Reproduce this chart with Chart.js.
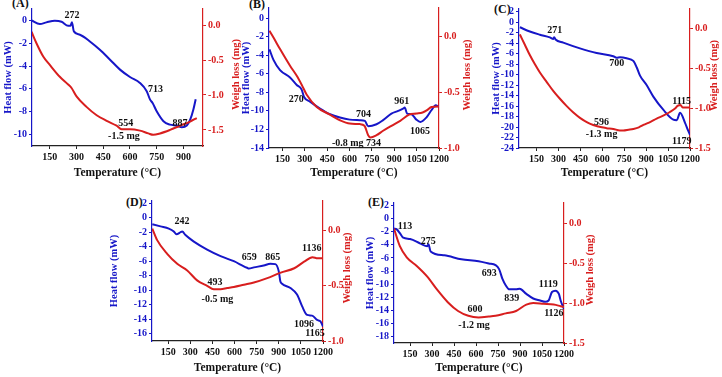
<!DOCTYPE html>
<html>
<head>
<meta charset="utf-8">
<script src="https://cdn.jsdelivr.net/npm/chart.js@4.4.1/dist/chart.umd.min.js"></script>
<style>
  body { margin: 0; background: #fff; }
  #wrap { position: relative; width: 722px; height: 377px; overflow: hidden; }
  #wrap canvas { position: absolute; left: 0; top: 0; }
  .tag { position: absolute; font: bold 12px "Liberation Serif", serif; color: #111; }
</style>
</head>
<body>
<div id="wrap">
  <div class="tag" style="left:12px;top:-4px">(A)</div>
  <div class="tag" style="left:249px;top:-3px">(B)</div>
  <div class="tag" style="left:494px;top:2px">(C)</div>
  <div class="tag" style="left:126px;top:195px">(D)</div>
  <div class="tag" style="left:368px;top:195px">(E)</div>
</div>
<script>
// ---- data ----
// (A)
const aHeatT = [47, 94, 131, 178, 216, 253, 266, 274, 285, 319, 375, 431, 488, 544, 600, 656, 694, 713, 727, 750, 788, 825, 863, 891, 919, 938, 956, 969];
const aHeat  = [0.0, -0.32, -0.17, -0.03, -0.12, -0.47, -0.47, -0.15, -0.96, -1.25, -1.84, -2.57, -3.44, -4.31, -4.96, -5.48, -6.2, -6.94, -7.23, -7.96, -8.83, -9.13, -9.21, -9.36, -9.2, -8.7, -7.8, -6.9];
const aLossT = [47, 75, 113, 150, 206, 253, 272, 300, 356, 413, 469, 525, 553, 600, 656, 703, 731, 769, 825, 881, 938, 975];
const aLoss  = [-0.095, -0.26, -0.45, -0.57, -0.74, -0.85, -0.9, -1.02, -1.17, -1.29, -1.37, -1.44, -1.49, -1.49, -1.51, -1.55, -1.57, -1.55, -1.5, -1.44, -1.38, -1.33];

// (B)
const bHeatT = [63, 90, 134, 201, 246, 279, 295, 335, 402, 469, 536, 602, 669, 703, 725, 781, 825, 881, 926, 959, 970, 986, 1015, 1048, 1075, 1115, 1149, 1178, 1200];
const bHeat  = [-3.36, -4.5, -5.6, -6.4, -7.2, -7.7, -8.5, -9.0, -9.75, -10.36, -10.72, -10.94, -11.0, -11.08, -11.66, -11.44, -11.0, -10.29, -10.0, -9.75, -9.64, -10.29, -10.36, -10.94, -11.19, -10.72, -9.93, -9.39, -9.57];
const bLossT = [63, 90, 134, 201, 246, 279, 313, 380, 469, 536, 602, 669, 700, 725, 740, 781, 825, 881, 940, 1000, 1048, 1090, 1120, 1150, 1200];
const bLoss  = [0.055, -0.006, -0.11, -0.26, -0.35, -0.43, -0.52, -0.63, -0.70, -0.75, -0.78, -0.785, -0.8, -0.885, -0.906, -0.885, -0.845, -0.8, -0.755, -0.70, -0.69, -0.68, -0.66, -0.63, -0.627];

// (C)
const cHeatT = [36, 104, 173, 241, 265, 271, 280, 333, 447, 561, 675, 698, 721, 766, 812, 835, 858, 903, 949, 1017, 1086, 1109, 1132, 1166, 1189, 1200];
const cHeat  = [-0.98, -1.8, -2.4, -2.9, -3.2, -2.9, -3.3, -3.9, -5.0, -5.9, -6.5, -6.8, -6.7, -6.9, -7.4, -8.6, -10.2, -12.0, -14.2, -16.7, -18.6, -18.7, -17.3, -19.2, -20.8, -21.5];
const cLossT = [36, 70, 104, 140, 173, 220, 264, 310, 355, 400, 447, 500, 538, 596, 629, 675, 720, 744, 780, 812, 850, 881, 930, 972, 1020, 1060, 1100, 1115, 1135, 1150, 1200];
const cLoss  = [-0.07, -0.2, -0.33, -0.45, -0.55, -0.67, -0.78, -0.88, -0.97, -1.05, -1.12, -1.18, -1.21, -1.24, -1.25, -1.26, -1.28, -1.28, -1.27, -1.26, -1.24, -1.21, -1.17, -1.13, -1.09, -1.05, -1.0, -0.97, -0.96, -0.99, -0.99];

// (D)
const dHeatT = [42, 98, 154, 188, 206, 234, 245, 267, 324, 414, 505, 595, 663, 685, 697, 731, 798, 843, 877, 900, 911, 922, 979, 1024, 1058, 1092, 1126, 1160, 1183, 1200];
const dHeat  = [-0.9, -1.2, -1.5, -1.9, -2.3, -2.0, -1.9, -2.4, -3.3, -4.4, -5.3, -6.0, -6.7, -6.9, -7.0, -6.85, -6.6, -6.35, -6.4, -7.4, -8.8, -9.1, -9.7, -10.6, -12.2, -13.4, -13.5, -14.1, -14.3, -15.0];
const dLossT = [42, 75, 143, 211, 279, 346, 414, 459, 505, 550, 595, 663, 731, 822, 914, 1005, 1072, 1129, 1163, 1200];
const dLoss  = [0.02, -0.085, -0.21, -0.30, -0.36, -0.45, -0.50, -0.53, -0.53, -0.52, -0.51, -0.49, -0.47, -0.43, -0.38, -0.34, -0.28, -0.24, -0.25, -0.25];

// (E)
const eHeatT = [40, 57, 80, 103, 150, 220, 267, 275, 290, 383, 500, 617, 687, 733, 757, 780, 803, 827, 873, 897, 943, 990, 1037, 1072, 1095, 1118, 1142, 1165, 1177, 1200];
const eHeat  = [-1.5, -1.6, -2.2, -2.9, -3.1, -3.8, -4.2, -3.9, -5.0, -5.6, -6.2, -6.5, -6.85, -7.1, -7.7, -9.2, -10.2, -10.8, -10.8, -10.7, -11.5, -12.2, -12.5, -12.7, -12.5, -11.2, -11.0, -11.5, -12.5, -13.8];
const eLossT = [40, 80, 127, 197, 267, 337, 407, 477, 547, 617, 687, 733, 803, 873, 943, 990, 1060, 1130, 1177, 1200];
const eLoss  = [-0.07, -0.29, -0.43, -0.54, -0.67, -0.84, -0.99, -1.10, -1.16, -1.18, -1.17, -1.16, -1.13, -1.10, -1.02, -1.0, -1.01, -1.02, -1.04, -1.05];

// tick labels
const xTicksA = [150, 300, 450, 600, 750, 900];
const xTicksFull = [150, 300, 450, 600, 750, 900, 1050, 1200];

const BLUE = '#1616c8';
const RED = '#d81e1e';
const FONT = '"Liberation Serif", "Times New Roman", serif';

// 주석 텍스트 + 오른쪽 축 제목(아래에서 위로 읽히게) 그리는 플러그인
const notesPlugin = {
  id: 'notes',
  afterDatasetsDraw(chart, args, opts) {
    const { ctx, scales } = chart;
    ctx.save();
    ctx.font = 'bold 10px ' + FONT;
    ctx.fillStyle = '#111';
    ctx.textAlign = 'center';
    ctx.textBaseline = 'middle';
    (opts.items || []).forEach(n => {
      ctx.fillText(n[0], scales.x.getPixelForValue(n[1]), scales.y.getPixelForValue(n[2]));
    });
    ctx.restore();

    const r = scales.y1;
    ctx.save();
    ctx.font = 'bold 10.5px ' + FONT;
    ctx.fillStyle = RED;
    ctx.textAlign = 'center';
    ctx.textBaseline = 'middle';
    ctx.translate(r.right - 8, (r.top + r.bottom) / 2 - 3);
    ctx.rotate(-Math.PI / 2);
    ctx.fillText('Weigh loss (mg)', 0, 0);
    ctx.restore();
  }
};

function pts(xs, ys) {
  return xs.map((x, i) => ({ x: x, y: ys[i] }));
}

function range(a, b, step) {
  const out = [];
  for (let v = a; v >= b - 1e-9; v -= step) out.push(+v.toFixed(2));
  return out;
}

function makePanel(p) {
  const cv = document.createElement('canvas');
  cv.width = 722;
  cv.height = 377;
  document.getElementById('wrap').appendChild(cv);

  const tickFont = { family: FONT, size: 10, weight: 'bold' };
  const titleFont = { family: FONT, size: 10.5, weight: 'bold' };

  new Chart(cv.getContext('2d'), {
    type: 'line',
    data: {
      datasets: [
        { data: pts(p.lossT, p.loss), yAxisID: 'y1', borderColor: RED, borderWidth: 2, pointRadius: 0, cubicInterpolationMode: 'monotone' },
        { data: pts(p.heatT, p.heat), yAxisID: 'y', borderColor: BLUE, borderWidth: 2, pointRadius: 0, cubicInterpolationMode: 'monotone' }
      ]
    },
    options: {
      responsive: false,
      animation: false,
      events: [],
      layout: {
        padding: { left: p.L - p.lw, top: p.T, right: 722 - p.R - p.rw, bottom: 377 - p.B - p.xh }
      },
      plugins: {
        legend: { display: false },
        tooltip: { enabled: false },
        notes: { items: p.notes }
      },
      scales: {
        x: {
          type: 'linear', min: p.xr[0], max: p.xr[1],
          afterBuildTicks: s => { s.ticks = p.xt.map(v => ({ value: v })); },
          afterFit: s => { s.height = p.xh; s.paddingLeft = 0; s.paddingRight = 0; },
          ticks: { color: '#111', font: tickFont, padding: 2, maxRotation: 0, autoSkip: false, callback: v => String(v) },
          grid: { drawOnChartArea: false, tickLength: 3, color: '#222' },
          border: { color: '#222', width: 1.2 },
          title: { display: true, text: 'Temperature (°C)', color: '#111', font: { family: FONT, size: 11.5, weight: 'bold' }, padding: { top: 2, bottom: 1 } }
        },
        y: {
          position: 'left', min: p.yl[0], max: p.yl[1],
          afterBuildTicks: s => { s.ticks = range(p.ylt[0], p.ylt[1], p.ylt[2]).map(v => ({ value: v })); },
          afterFit: s => { s.width = p.lw; s.paddingTop = 0; s.paddingBottom = 0; },
          ticks: { color: BLUE, font: tickFont, padding: 2, autoSkip: false, callback: v => String(v) },
          grid: { drawOnChartArea: false, tickLength: 3, color: BLUE },
          border: { color: BLUE, width: 1.2 },
          title: { display: true, text: 'Heat flow (mW)', color: BLUE, font: titleFont, padding: { top: 2, bottom: 1 } }
        },
        y1: {
          position: 'right', min: p.yr[0], max: p.yr[1],
          afterBuildTicks: s => { s.ticks = range(0, p.yrt, 0.5).map(v => ({ value: v })); },
          afterFit: s => { s.width = p.rw; s.paddingTop = 0; s.paddingBottom = 0; },
          ticks: { color: RED, font: tickFont, padding: 2, autoSkip: false, callback: v => v.toFixed(1) },
          grid: { drawOnChartArea: false, tickLength: 3, color: RED },
          border: { color: RED, width: 1.2 }
        }
      }
    },
    plugins: [notesPlugin]
  });
}

makePanel({
  heatT: aHeatT, heat: aHeat, lossT: aLossT, loss: aLoss,
  L: 32, T: 9, R: 203, B: 146, lw: 32, rw: 41, xh: 35,
  xr: [50, 1010], xt: xTicksA, yl: [-11, 1], ylt: [0, -10, 2], yr: [-1.73, 0.23], yrt: -1.5,
  notes: [['272', 274, 0.4], ['713', 744, -6.06], ['554', 577, -8.98], ['-1.5 mg', 566, -10.2], ['887', 881, -9.04]]
});

makePanel({
  heatT: bHeatT, heat: bHeat, lossT: bLossT, loss: bLoss,
  L: 269, T: 8, R: 439, B: 148, lw: 31, rw: 36, xh: 33,
  xr: [60, 1200], xt: xTicksFull, yl: [-14, 1.1], ylt: [0, -14, 2], yr: [-1.0, 0.26], yrt: -1.0,
  notes: [['270', 242, -8.77], ['704', 693, -10.36], ['961', 950, -9.02], ['1065', 1073, -12.2], ['-0.8 mg', 588, -13.46], ['734', 760, -13.46]]
});

makePanel({
  heatT: cHeatT, heat: cHeat, lossT: cLossT, loss: cLoss,
  L: 519, T: 9, R: 690, B: 148, lw: 31, rw: 32, xh: 33,
  xr: [30, 1200], xt: xTicksFull, yl: [-24, 2.5], ylt: [2, -24, 2], yr: [-1.5, 0.25], yrt: -1.5,
  notes: [['271', 275, -1.62], ['700', 698, -7.9], ['596', 595, -19.1], ['-1.3 mg', 595, -21.5], ['1115', 1143, -15.1], ['1179', 1143, -22.8]]
});

makePanel({
  heatT: dHeatT, heat: dHeat, lossT: dLossT, loss: dLoss,
  L: 152, T: 201, R: 323, B: 341, lw: 46, rw: 32, xh: 35,
  xr: [40, 1200], xt: xTicksFull, yl: [-17, 2.3], ylt: [2, -16, 2], yr: [-1.0, 0.27], yrt: -1.0,
  notes: [['242', 243, -0.53], ['659', 699, -5.44], ['865', 859, -5.44], ['1136', 1124, -4.2], ['493', 468, -8.94], ['-0.5 mg', 484, -11.2], ['1096', 1071, -14.76], ['1165', 1146, -16.0]]
});

makePanel({
  heatT: eHeatT, heat: eHeat, lossT: eLossT, loss: eLoss,
  L: 394, T: 203, R: 564, B: 343, lw: 32, rw: 34, xh: 33,
  xr: [40, 1200], xt: xTicksFull, yl: [-19, 2.4], ylt: [2, -18, 2], yr: [-1.5, 0.25], yrt: -1.5,
  notes: [['113', 115, -1.22], ['275', 274, -3.42], ['693', 690, -8.38], ['839', 843, -12.2], ['600', 593, -13.86], ['-1.2 mg', 586, -16.3], ['1119', 1093, -10.07], ['1126', 1131, -14.5]]
});
</script>
</body>
</html>
